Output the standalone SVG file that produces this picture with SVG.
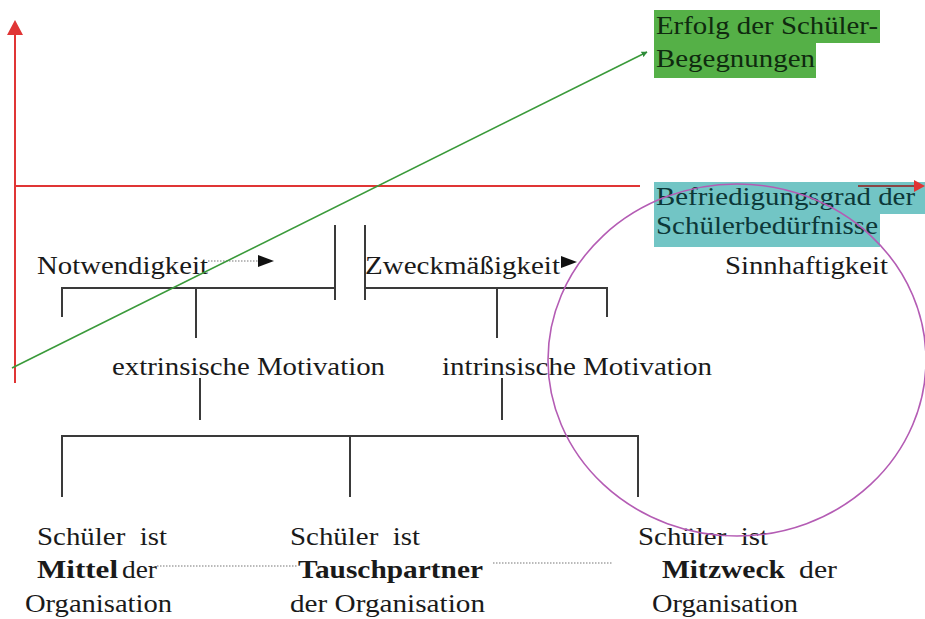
<svg xmlns="http://www.w3.org/2000/svg" width="925" height="619" viewBox="0 0 925 619">
<style>
text{font-family:"Liberation Serif","DejaVu Serif","Times New Roman",serif;font-size:25px;fill:#1a1a1a;white-space:pre}
.b{font-weight:bold}
.br{stroke:#3a3a3a;stroke-width:2;fill:none}
.dot{stroke:#777;stroke-width:1.2;stroke-dasharray:1.5 1.5;fill:none}
.red{stroke:#e03535;stroke-width:2;fill:none}
.gt{fill:#0f2a0f}
.tt{fill:#0d3838}
</style>
<defs>
<marker id="ga" viewBox="0 0 10 10" refX="9" refY="5" markerWidth="6" markerHeight="6" markerUnits="userSpaceOnUse" orient="auto">
<path d="M0,0 L10,5 L0,10 z" fill="#2e8b3a"/>
</marker>
</defs>
<rect width="925" height="619" fill="#ffffff"/>

<g id="axes">
<line class="red" x1="15" y1="34" x2="15" y2="383"/>
<polygon points="15,20 7,35 23,35" fill="#e03535"/>
<line class="red" x1="15" y1="186" x2="640" y2="186"/>
</g>

<g id="erfolg">
<rect x="654" y="10" width="226" height="33" fill="#55b047"/>
<rect x="654" y="43" width="162" height="35" fill="#55b047"/>
<text class="gt" x="656" y="34" textLength="222" lengthAdjust="spacingAndGlyphs">Erfolg der Schüler-</text>
<text class="gt" x="656" y="67" textLength="159" lengthAdjust="spacingAndGlyphs">Begegnungen</text>
</g>

<g id="befriedigung">
<rect x="654" y="182" width="271" height="32" fill="#72c5c5"/>
<rect x="654" y="214" width="226" height="33" fill="#72c5c5"/>
<line x1="858" y1="186" x2="916" y2="186" stroke="#8a4545" stroke-width="2"/>
<polygon points="925,186 914,180 914,192" fill="#e03535"/>
<text class="tt" x="656" y="205" textLength="259" lengthAdjust="spacingAndGlyphs">Befriedigungsgrad der</text>
<text class="tt" x="656" y="234" textLength="222" lengthAdjust="spacingAndGlyphs">Schülerbedürfnisse</text>
</g>

<g id="sinnhaftigkeit">
<text x="725" y="274" textLength="163" lengthAdjust="spacingAndGlyphs">Sinnhaftigkeit</text>
</g>

<g id="notwendigkeit">
<text x="37" y="274" textLength="171" lengthAdjust="spacingAndGlyphs">Notwendigkeit</text>
</g>

<g id="zweckmaessigkeit">
<text x="365" y="274" textLength="195" lengthAdjust="spacingAndGlyphs">Zweckmäßigkeit</text>
</g>

<g id="extrinsisch">
<text x="112" y="375" textLength="273" lengthAdjust="spacingAndGlyphs">extrinsische Motivation</text>
</g>

<g id="intrinsisch">
<text x="442" y="375" textLength="270" lengthAdjust="spacingAndGlyphs">intrinsische Motivation</text>
</g>

<g id="mittel">
<text x="37" y="545" textLength="130" lengthAdjust="spacingAndGlyphs">Schüler  ist</text>
<text class="b" x="37" y="578" textLength="81" lengthAdjust="spacingAndGlyphs">Mittel</text>
<text x="122" y="578" textLength="35" lengthAdjust="spacingAndGlyphs">der</text>
<text x="25" y="612" textLength="147" lengthAdjust="spacingAndGlyphs">Organisation</text>
</g>

<g id="tauschpartner">
<text x="290" y="545" textLength="130" lengthAdjust="spacingAndGlyphs">Schüler  ist</text>
<text class="b" x="298" y="578" textLength="185" lengthAdjust="spacingAndGlyphs">Tauschpartner</text>
<text x="290" y="612" textLength="195" lengthAdjust="spacingAndGlyphs">der Organisation</text>
</g>

<g id="mitzweck">
<text x="638" y="545" textLength="130" lengthAdjust="spacingAndGlyphs">Schüler  ist</text>
<text class="b" x="662" y="578" textLength="123" lengthAdjust="spacingAndGlyphs">Mitzweck</text>
<text x="799" y="578" textLength="38" lengthAdjust="spacingAndGlyphs">der</text>
<text x="652" y="612" textLength="146" lengthAdjust="spacingAndGlyphs">Organisation</text>
</g>

<g id="connectors">
<polyline class="br" points="62,317 62,288 335,288"/>
<line class="br" x1="196" y1="288" x2="196" y2="338"/>
<line class="br" x1="335" y1="225" x2="335" y2="300"/>
<line class="br" x1="365" y1="225" x2="365" y2="300"/>
<polyline class="br" points="365,288 607,288 607,317"/>
<line class="br" x1="497" y1="288" x2="497" y2="338"/>
<line class="br" x1="200" y1="378" x2="200" y2="420"/>
<line class="br" x1="502" y1="378" x2="502" y2="420"/>
<polyline class="br" points="62,497 62,436 638,436 638,497"/>
<line class="br" x1="350" y1="436" x2="350" y2="497"/>
<line class="dot" x1="208" y1="261" x2="258" y2="261"/>
<polygon points="274,261 258,255 258,267" fill="#111"/>
<polygon points="577,262 561,256 561,268" fill="#111"/>
<line class="dot" x1="157" y1="566" x2="297" y2="566"/>
<line class="dot" x1="493" y1="563" x2="612" y2="563"/>
<line x1="12" y1="368" x2="647" y2="52" stroke="#3a9a3a" stroke-width="1.6" marker-end="url(#ga)"/>
<ellipse cx="737" cy="360" rx="189" ry="176" fill="none" stroke="#b45cb4" stroke-width="1.6"/>
</g>
</svg>
